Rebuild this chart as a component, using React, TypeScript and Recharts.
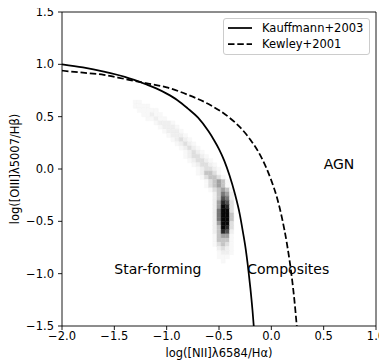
import React from 'react';
import {
  ComposedChart,
  Line,
  Scatter,
  XAxis,
  YAxis,
  ReferenceArea,
  Legend,
} from 'recharts';

// Demarcation curves in the [NII]/Hα vs [OIII]/Hβ plane
const kauffmannX = [-2.0, -1.8, -1.6, -1.4, -1.2, -1.1, -1.0, -0.9, -0.8, -0.7, -0.6, -0.55, -0.5, -0.45, -0.4, -0.35, -0.3, -0.27, -0.25, -0.22, -0.2, -0.18, -0.168];
const kauffmannY = [1.0, 0.97, 0.93, 0.88, 0.81, 0.77, 0.72, 0.66, 0.58, 0.49, 0.36, 0.28, 0.19, 0.08, -0.06, -0.23, -0.44, -0.61, -0.73, -0.96, -1.14, -1.35, -1.5];

const kewleyX = [-2.0, -1.8, -1.6, -1.4, -1.2, -1.0, -0.8, -0.6, -0.4, -0.3, -0.2, -0.1, 0.0, 0.05, 0.1, 0.15, 0.2, 0.22, 0.243];
const kewleyY = [0.94, 0.92, 0.9, 0.86, 0.82, 0.78, 0.71, 0.62, 0.49, 0.4, 0.28, 0.12, -0.11, -0.26, -0.46, -0.72, -1.07, -1.25, -1.5];

// Galaxy density: [row bottom (y), first cell left edge (x), level per cell 0-9]
const densityRows: [number, number, string][] = [
  [0.62, -1.32, '11'],
  [0.58, -1.32, '1111'],
  [0.54, -1.28, '11111'],
  [0.5, -1.24, '11211'],
  [0.46, -1.2, '11211'],
  [0.42, -1.12, '12221'],
  [0.38, -1.08, '12221'],
  [0.34, -1.04, '12221'],
  [0.3, -1.0, '12221'],
  [0.26, -0.96, '12321'],
  [0.22, -0.92, '12321'],
  [0.18, -0.88, '12321'],
  [0.14, -0.84, '12321'],
  [0.1, -0.84, '123321'],
  [0.06, -0.8, '123321'],
  [0.02, -0.76, '123321'],
  [-0.02, -0.72, '123321'],
  [-0.06, -0.72, '124431'],
  [-0.1, -0.68, '134431'],
  [-0.14, -0.64, '134541'],
  [-0.18, -0.64, '134541'],
  [-0.22, -0.6, '134541'],
  [-0.26, -0.56, '24652'],
  [-0.3, -0.56, '24762'],
  [-0.34, -0.56, '25873'],
  [-0.38, -0.56, '25983'],
  [-0.42, -0.56, '26993'],
  [-0.46, -0.56, '26994'],
  [-0.5, -0.56, '26994'],
  [-0.54, -0.56, '25993'],
  [-0.58, -0.56, '24983'],
  [-0.62, -0.56, '24872'],
  [-0.66, -0.56, '14551'],
  [-0.7, -0.56, '14441'],
  [-0.74, -0.56, '13431'],
  [-0.78, -0.52, '2321'],
  [-0.82, -0.52, '1221'],
  [-0.86, -0.52, '111'],
  [-0.9, -0.48, '1'],
];
const densityBin = 0.04;

// Region names and their anchor points
const regionNames = ['Star-forming', 'Composites', 'AGN'];
const regionX = [-1.5, -0.23, 0.5];
const regionY = [-1.0, -1.0, 0.0];

const xTicks = [-2.0, -1.5, -1.0, -0.5, 0.0, 0.5, 1.0];
const yTicks = [-1.5, -1.0, -0.5, 0.0, 0.5, 1.0, 1.5];

const curves = [
  { name: 'Kauffmann+2003', xs: kauffmannX, ys: kauffmannY, dash: undefined as string | undefined },
  { name: 'Kewley+2001', xs: kewleyX, ys: kewleyY, dash: '6.5 2.8' },
];

const FONT = '"DejaVu Sans", sans-serif';
const greyRamp = [255, 248, 239, 223, 196, 160, 120, 80, 40, 8];

const fmt = (v: number) => v.toFixed(1).replace('-', '\u2212');

const cells = densityRows.flatMap(([y, x0, levels], r) =>
  levels.split('').map((ch, i) => {
    const g = greyRamp[Number(ch)];
    return {
      key: `c${r}-${i}`,
      x1: x0 + i * densityBin,
      x2: x0 + (i + 1) * densityBin,
      y1: y,
      y2: y + densityBin,
      color: `rgb(${g},${g},${g})`,
    };
  })
);

const regionData = regionNames.map((name, i) => ({ x: regionX[i], y: regionY[i], name }));

const RegionLabel = (props: any) => {
  const { cx, cy, payload } = props;
  return (
    <text x={cx} y={cy} fontFamily={FONT} fontSize={14} fill="#000" textAnchor="start">
      {payload.name}
    </text>
  );
};

const LegendBox = () => (
  <div
    style={{
      border: '1px solid #cccccc',
      borderRadius: 3,
      background: 'rgba(255,255,255,0.8)',
      padding: '1px 4px 2px 4px',
      fontFamily: FONT,
      fontSize: 11.5,
      color: '#000',
      boxSizing: 'border-box',
      width: 147,
      textAlign: 'left',
    }}
  >
    {curves.map((c) => (
      <div key={c.name} style={{ display: 'flex', alignItems: 'center', height: 16 }}>
        <svg width={24} height={8} style={{ display: 'block' }}>
          <line x1={0} y1={4} x2={24} y2={4} stroke="#000" strokeWidth={1.75} strokeDasharray={c.dash} />
        </svg>
        <span style={{ marginLeft: 10, lineHeight: '16px' }}>{c.name}</span>
      </div>
    ))}
  </div>
);

export default function App() {
  return (
    <div style={{ margin: '-8px 0 0 -8px', width: 387, height: 361 }}>
      <style>{'html{overflow:hidden}'}</style>
      <ComposedChart
        width={387}
        height={361}
        margin={{ top: 12, right: 11, bottom: 0, left: 8 }}
        style={{ fontFamily: FONT }}
      >
        <XAxis
          type="number"
          dataKey="x"
          domain={[-2, 1]}
          ticks={xTicks}
          interval={0}
          tickFormatter={fmt}
          allowDataOverflow
          axisLine={false}
          tickLine={{ stroke: '#000', strokeWidth: 0.9 }}
          tickSize={4}
          tickMargin={2}
          height={35}
          tick={{ fill: '#000', fontSize: 11.5, fontFamily: FONT }}
          label={{
            value: 'log([NII]\u03bb6584/H\u03b1)',
            position: 'insideBottom',
            offset: 4,
            fill: '#000',
            fontSize: 11.5,
            fontFamily: FONT,
          }}
        />
        <YAxis
          type="number"
          dataKey="y"
          domain={[-1.5, 1.5]}
          ticks={yTicks}
          interval={0}
          tickFormatter={fmt}
          allowDataOverflow
          axisLine={false}
          tickLine={{ stroke: '#000', strokeWidth: 0.9 }}
          tickSize={4}
          tickMargin={4}
          width={54}
          tick={{ fill: '#000', fontSize: 11.5, fontFamily: FONT }}
          label={{
            value: 'log([OIII]\u03bb5007/H\u03b2)',
            angle: -90,
            position: 'insideLeft',
            offset: 7,
            fill: '#000',
            fontSize: 11.5,
            fontFamily: FONT,
            style: { textAnchor: 'middle' },
          }}
        />

        {cells.map((c) => (
          <ReferenceArea
            key={c.key}
            x1={c.x1}
            x2={c.x2}
            y1={c.y1}
            y2={c.y2}
            fill={c.color}
            fillOpacity={1}
            stroke={c.color}
            strokeWidth={0.4}
            ifOverflow="hidden"
          />
        ))}

        {curves.map((c) => (
          <Line
            key={c.name}
            name={c.name}
            data={c.xs.map((x, i) => ({ x, y: c.ys[i] }))}
            dataKey="y"
            type="monotone"
            stroke="#000"
            strokeWidth={1.75}
            strokeDasharray={c.dash}
            dot={false}
            activeDot={false}
            isAnimationActive={false}
          />
        ))}

        <Scatter
          data={regionData}
          dataKey="y"
          shape={RegionLabel}
          legendType="none"
          isAnimationActive={false}
        />

        <ReferenceArea x1={-2} x2={1} y1={-1.5} y2={1.5} fill="none" stroke="#000" strokeWidth={0.9} />

        <Legend
          layout="horizontal"
          verticalAlign="middle"
          align="center"
          content={LegendBox}
          wrapperStyle={{ position: 'absolute', top: 18, left: 223, width: 147, right: 'auto', bottom: 'auto' }}
        />
      </ComposedChart>
    </div>
  );
}
